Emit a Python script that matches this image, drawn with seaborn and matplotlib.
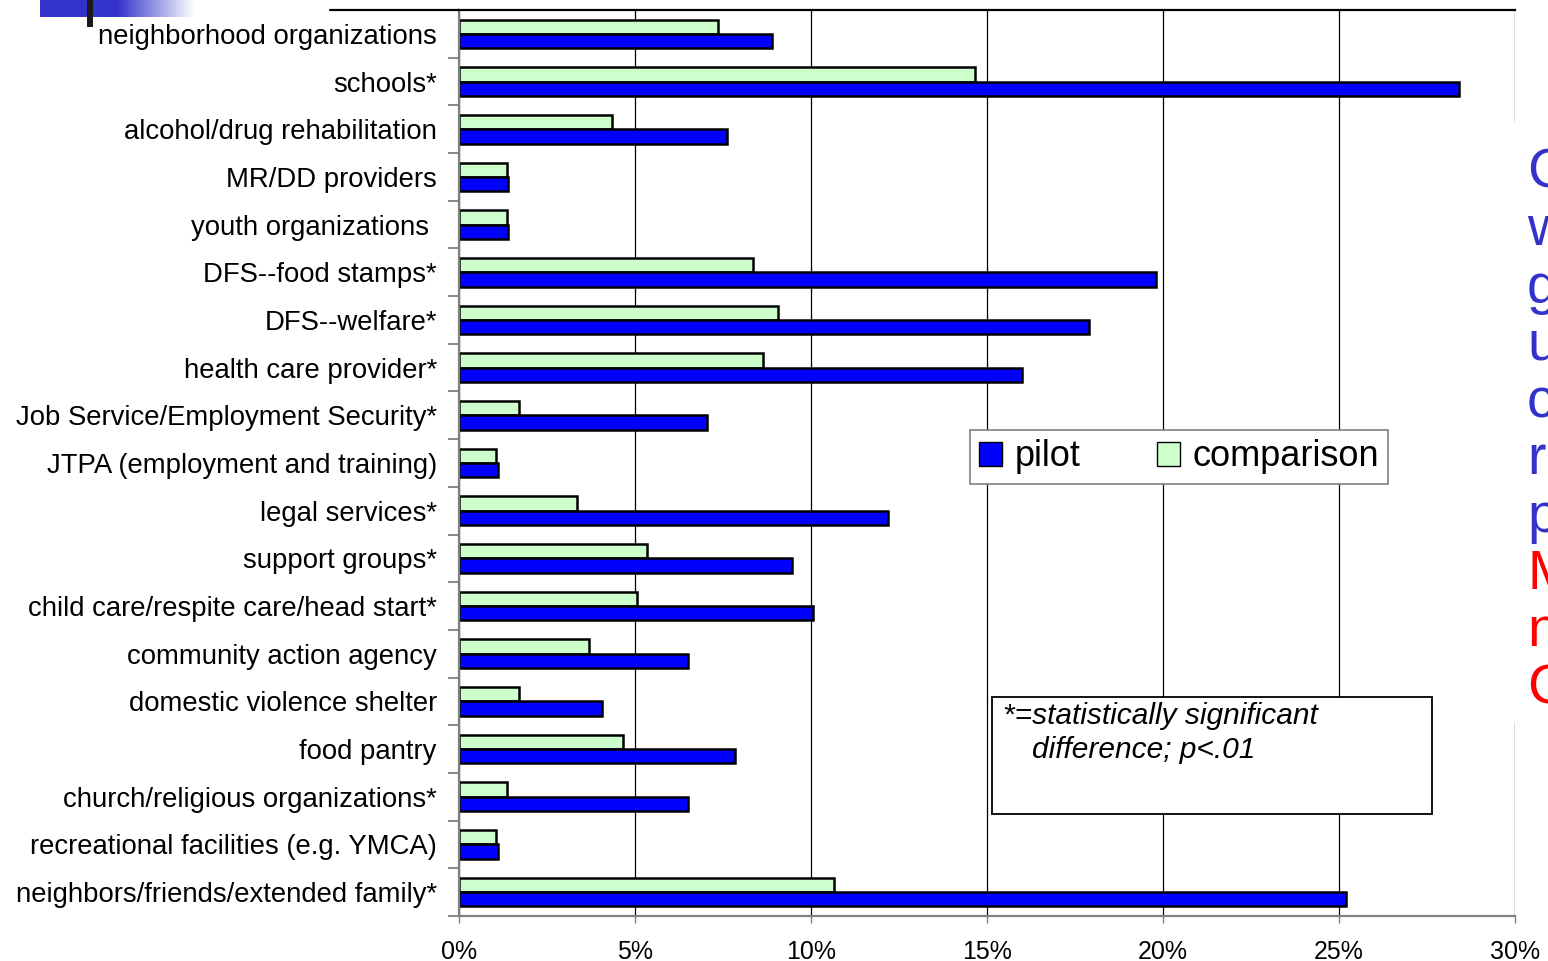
import numpy as np
import pandas as pd
import seaborn as sns
import matplotlib
matplotlib.use('Agg')
import matplotlib.pyplot as plt
from matplotlib.patches import Rectangle
from matplotlib.lines import Line2D

# data (percent of respondents)
categories = [
    'neighborhood organizations',
    'schools*',
    'alcohol/drug rehabilitation',
    'MR/DD providers',
    'youth organizations ',
    'DFS--food stamps*',
    'DFS--welfare*',
    'health care provider*',
    'Job Service/Employment Security*',
    'JTPA (employment and training)',
    'legal services*',
    'support groups*',
    'child care/respite care/head start*',
    'community action agency',
    'domestic violence shelter',
    'food pantry',
    'church/religious organizations*',
    'recreational facilities (e.g. YMCA)',
    'neighbors/friends/extended family*',
]
pilot = [8.9, 28.4, 7.6, 1.4, 1.4, 19.8, 17.9, 16.0, 7.05, 1.1, 12.2, 9.45,
         10.05, 6.5, 4.05, 7.85, 6.5, 1.1, 25.2]
comparison = [7.35, 14.65, 4.35, 1.35, 1.35, 8.35, 9.05, 8.65, 1.7, 1.05, 3.35,
              5.35, 5.05, 3.7, 1.7, 4.65, 1.35, 1.05, 10.65]
xticks = [0, 5, 10, 15, 20, 25, 30]

colors = {'pilot': '#0000FF', 'comparison': '#CCFFCC'}

df = pd.DataFrame({
    'category': categories * 2,
    'group': ['comparison'] * len(categories) + ['pilot'] * len(categories),
    'value': comparison + pilot,
})

W, H = 1548, 961
def fx(px):
    return px / W
def fy(py):
    return 1 - py / H

sns.set_style('white')
plt.rcParams['font.family'] = ['Liberation Sans', 'DejaVu Sans']
plt.rcParams['text.color'] = 'black'

fig = plt.figure(figsize=(W / 100, H / 100), dpi=100)
ax = fig.add_axes([fx(459), fy(916), (1515 - 459) / W, (916 - 10) / H])

sns.barplot(data=df, y='category', x='value', hue='group',
            hue_order=['comparison', 'pilot'], order=categories,
            palette=colors, saturation=1, width=0.6, edgecolor='black',
            linewidth=1.8, orient='h', legend=False, ax=ax)

ax.set_xlim(0, 30)
ax.set_xticks(xticks)
ax.set_xticklabels([f'{t}%' for t in xticks], fontsize=18, color='black')
ax.tick_params(axis='x', bottom=True, length=5, width=1, color='gray', pad=12)
ax.set_yticks(range(len(categories)))
ax.set_yticklabels(categories, fontsize=19.8, color='black')
ax.tick_params(axis='y', which='major', left=False, length=0, pad=16)
ax.set_yticks(np.arange(-0.5, len(categories), 1), minor=True)
ax.tick_params(axis='y', which='minor', left=True, length=8, width=1.3,
               color='gray', direction='out')
ax.set_xlabel('')
ax.set_ylabel('')
ax.grid(axis='x', color='black', linewidth=0.9)
ax.set_axisbelow(True)

for side in ['left', 'bottom']:
    ax.spines[side].set_color('gray')
    ax.spines[side].set_linewidth(1.6)
ax.spines['top'].set_color('black')
ax.spines['top'].set_linewidth(1.6)
ax.spines['right'].set_visible(False)

# top rule runs a bit past the plot to the left
fig.add_artist(Line2D([fx(330), fx(459)], [fy(10), fy(10)], color='black',
                      linewidth=1.6, transform=fig.transFigure))

# legend: pilot first
handles = [Rectangle((0, 0), 1, 1, facecolor=colors[g], edgecolor='black', linewidth=1)
           for g in ['pilot', 'comparison']]
leg = ax.legend(handles, ['pilot', 'comparison'], loc='center',
                bbox_to_anchor=(fx(1179), fy(457)), bbox_transform=fig.transFigure,
                ncol=2, fontsize=26, frameon=True, fancybox=False,
                edgecolor='gray', framealpha=1, handlelength=0.65, handleheight=0.65,
                handletextpad=0.35, columnspacing=2.1, borderpad=0.25,
                borderaxespad=0)
leg.get_frame().set_linewidth(1.2)

# note box
fig.add_artist(Rectangle((fx(992), fy(814)), (1432 - 992) / W, (814 - 697) / H,
                         transform=fig.transFigure, facecolor='white',
                         edgecolor='black', linewidth=1.3, zorder=5))
fig.text(fx(1003), fy(724), '*=statistically significant', fontsize=21.5,
         style='italic', va='baseline', zorder=6)
fig.text(fx(1032), fy(758), 'difference; p<.01', fontsize=21.5,
         style='italic', va='baseline', zorder=6)

# slide text box overlapping the right edge
fig.add_artist(Rectangle((fx(1512), fy(722)), (W - 1512) / W, (722 - 122) / H,
                         transform=fig.transFigure, facecolor='white',
                         edgecolor='none', zorder=5))
side_letters = ['C', 'w', 'g', 'u', 'c', 'r', 'p', 'M', 'n', 'C']
side_colors = ['#3333CC'] * 7 + ['#FF0000'] * 3
for i, (ch, col) in enumerate(zip(side_letters, side_colors)):
    fig.text(fx(1527), fy(188 + i * 57.3), ch, fontsize=40, color=col,
             va='baseline', ha='left', zorder=6)

# slide decoration top left
deco = fig.add_axes([fx(40), fy(17), 155 / W, 17 / H])
t = np.clip((np.linspace(0, 1, 200) - 0.5) / 0.5, 0, 1)
blue = np.array([0x33, 0x33, 0xCC]) / 255
grad = blue[None, :] * (1 - t[:, None]) + t[:, None]
deco.imshow(grad[None, :, :], aspect='auto', extent=[0, 1, 0, 1])
deco.axis('off')
fig.add_artist(Rectangle((fx(87), fy(27)), 6 / W, 27 / H, transform=fig.transFigure,
                         facecolor='#1a1a1a', edgecolor='none', zorder=6))

plt.savefig('out.png', dpi=100)
